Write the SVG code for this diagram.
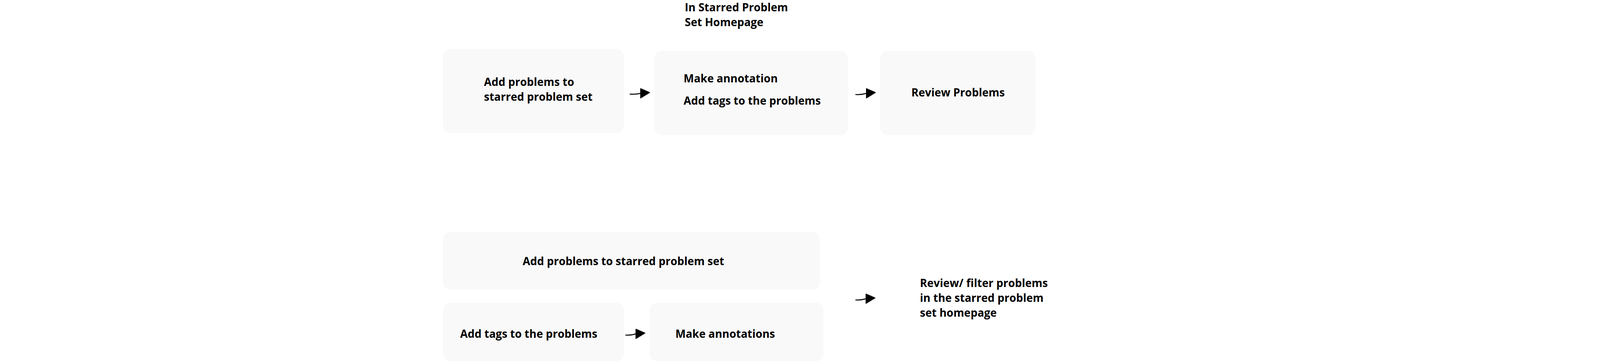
<svg xmlns="http://www.w3.org/2000/svg" width="4320" height="927" viewBox="0 0 4320 927">
<style>
.box{fill:#f9f9f9;}
.t{font-family:"Open Sans","Liberation Sans",sans-serif;font-weight:700;font-size:28px;fill:#000;}
.conn{fill:none;stroke:#000;stroke-width:2.5;stroke-linecap:round;}
</style>
<defs>
<marker id="ah" markerUnits="userSpaceOnUse" viewBox="0 0 26 28" markerWidth="26" markerHeight="28" refX="1" refY="14" orient="0">
<path d="M1,2 L24,12 L1,26 Z" fill="#000" stroke="#000" stroke-width="2" stroke-linejoin="round"/>
</marker>
</defs>
<rect width="4320" height="927" fill="#fff"/>
<g id="title">
<text class="t" x="1753" y="29">In Starred Problem</text>
<text class="t" x="1753" y="67">Set Homepage</text>
</g>
<g id="node-add-problems-top">
<rect class="box" x="1134" y="125" width="463" height="216" rx="20"/>
<text class="t" x="1239" y="220">Add problems to</text>
<text class="t" x="1239" y="258">starred problem set</text>
</g>
<g id="node-annotate-tags">
<rect class="box" x="1675" y="130" width="496" height="216" rx="20"/>
<text class="t" x="1750" y="211">Make annotation</text>
<text class="t" x="1750" y="268">Add tags to the problems</text>
</g>
<g id="node-review-problems">
<rect class="box" x="2253" y="130" width="398" height="216" rx="20"/>
<text class="t" x="2333" y="247">Review Problems</text>
</g>
<g id="node-add-problems-bottom">
<rect class="box" x="1134" y="594" width="965" height="148" rx="20"/>
<text class="t" x="1338" y="679">Add problems to starred problem set</text>
</g>
<g id="node-add-tags">
<rect class="box" x="1134" y="775" width="463" height="150" rx="20"/>
<text class="t" x="1178" y="865">Add tags to the problems</text>
</g>
<g id="node-make-annotations">
<rect class="box" x="1663" y="775" width="445" height="150" rx="20"/>
<text class="t" x="1729" y="865">Make annotations</text>
</g>
<g id="node-review-filter">
<text class="t" x="2355" y="735">Review/ filter problems</text>
<text class="t" x="2355" y="773">in the starred problem</text>
<text class="t" x="2355" y="811">set homepage</text>
</g>
<g id="connectors">
<path class="conn" d="M1613,241 Q1628,242 1640,239" marker-end="url(#ah)"/>
<path class="conn" d="M2191,242 Q2205,243 2218,239" marker-end="url(#ah)"/>
<path class="conn" d="M1602,858 Q1615,859 1628,855" marker-end="url(#ah)"/>
<path class="conn" d="M2191,768 Q2204,769 2217,765" marker-end="url(#ah)"/>
</g>
</svg>
